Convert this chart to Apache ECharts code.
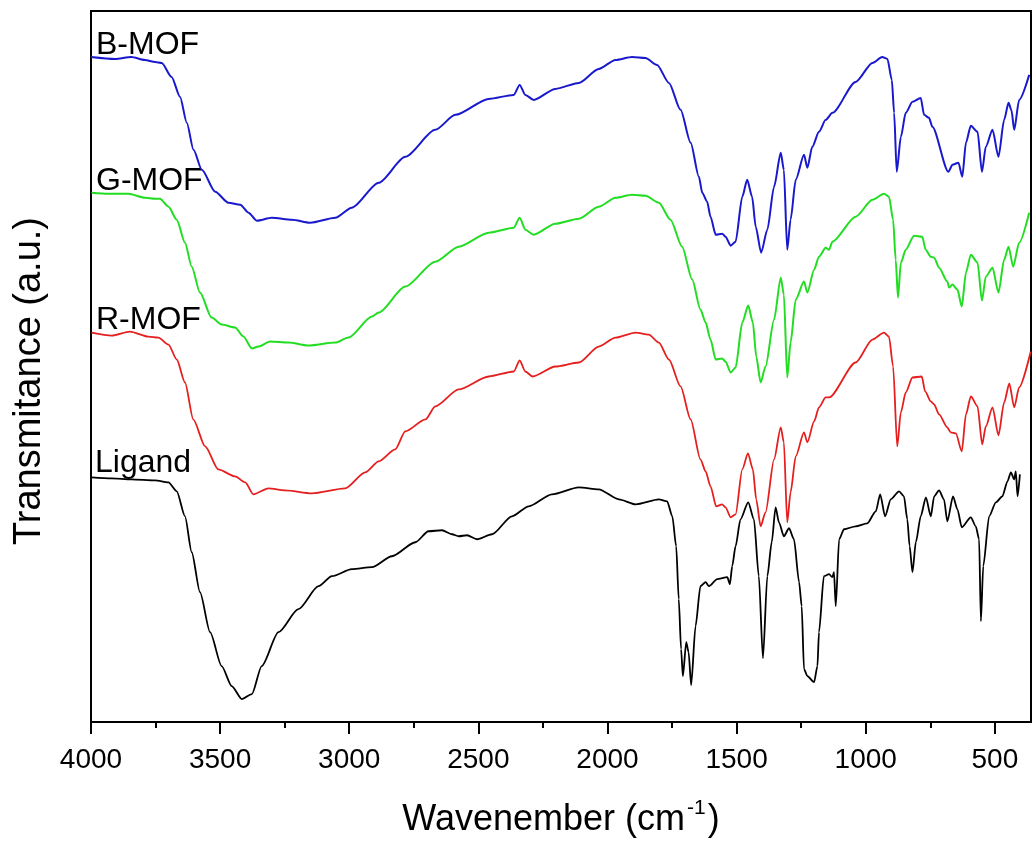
<!DOCTYPE html>
<html>
<head>
<meta charset="utf-8">
<script src="https://cdn.jsdelivr.net/npm/echarts@6/dist/echarts.min.js"></script>
<style>
html,body{margin:0;padding:0;background:#fff;}
#chart{width:1036px;height:843px;}
</style>
</head>
<body>
<div id="chart"></div>
<script>
// Wavenumber (cm-1) and transmittance (a.u., offset traces)
const seriesNames = ['B-MOF', 'G-MOF', 'R-MOF', 'Ligand'];
const majorTicks = [4000, 3500, 3000, 2500, 2000, 1500, 1000, 500];
const minorTicks = [3750, 3250, 2750, 2250, 1750, 1250, 750];

const bMOF = [[4000,666],[3907,664],[3844,666],[3791,663],[3752,661],[3726,660],[3688,646],[3655,626],[3629,600],[3603,573],[3571,553],[3519,531],[3468,520],[3422,518],[3390,510],[3358,502],[3300,505],[3222,503],[3151,500],[3054,505],[2990,515],[2886,540],[2783,566],[2667,593],[2589,608],[2460,624],[2363,628],[2340,638],[2318,628],[2286,623],[2202,634],[2111,640],[2034,654],[1969,663],[1905,666],[1853,665],[1808,658],[1762,640],[1717,613],[1678,580],[1646,546],[1633,530],[1614,521],[1601,506],[1581,488],[1556,489],[1543,486],[1523,477],[1504,481],[1478,526],[1459,543],[1440,526],[1426,496],[1405,470],[1381,493],[1355,536],[1329,570],[1317,553],[1304,473],[1291,503],[1271,543],[1239,568],[1226,555],[1207,576],[1181,591],[1155,603],[1129,610],[1039,641],[974,660],[936,666],[916,664],[899,643],[890,610],[880,551],[864,586],[845,610],[819,621],[787,625],[774,608],[755,605],[742,596],[680,551],[664,558],[641,560],[626,546],[612,580],[593,597],[567,591],[550,551],[535,576],[509,593],[486,566],[464,603],[447,620],[436,613],[425,593],[406,623],[367,648]];

const gMOF = [[3998,530],[3933,529],[3855,529],[3791,525],[3752,524],[3733,524],[3700,516],[3668,503],[3636,480],[3610,456],[3578,430],[3533,405],[3494,398],[3442,395],[3410,386],[3377,374],[3352,376],[3306,381],[3235,380],[3158,377],[3054,380],[3003,385],[2912,406],[2886,410],[2783,436],[2667,461],[2576,476],[2460,490],[2363,495],[2340,505],[2318,493],[2286,488],[2202,499],[2111,504],[2034,516],[1969,525],[1905,528],[1853,527],[1801,520],[1756,503],[1711,476],[1672,443],[1640,413],[1620,400],[1601,383],[1581,363],[1556,364],[1543,361],[1523,350],[1504,355],[1478,400],[1455,417],[1437,400],[1424,366],[1407,340],[1388,356],[1355,403],[1329,445],[1317,428],[1304,345],[1291,380],[1271,423],[1239,441],[1226,430],[1200,453],[1181,466],[1155,475],[1142,473],[1129,481],[1039,506],[974,523],[929,529],[910,526],[894,503],[884,463],[875,425],[864,460],[845,473],[813,487],[781,486],[768,473],[748,466],[735,465],[716,455],[684,441],[677,435],[664,438],[645,433],[628,416],[612,450],[593,468],[567,460],[550,422],[535,446],[509,455],[486,430],[464,463],[447,476],[429,456],[406,480],[367,510]];

const rMOF = [[3998,390],[3920,387],[3849,391],[3778,386],[3739,385],[3700,378],[3668,363],[3636,340],[3604,303],[3558,276],[3507,253],[3442,246],[3403,240],[3371,228],[3313,234],[3248,232],[3145,229],[3016,234],[2938,250],[2886,261],[2822,273],[2783,291],[2705,303],[2667,316],[2576,333],[2460,346],[2363,351],[2340,362],[2318,351],[2290,346],[2202,356],[2111,360],[2034,376],[1969,385],[1891,390],[1840,388],[1801,380],[1762,363],[1717,336],[1678,303],[1640,263],[1620,251],[1601,236],[1579,216],[1556,218],[1543,215],[1523,205],[1504,208],[1478,253],[1456,269],[1437,253],[1424,223],[1407,196],[1388,210],[1355,263],[1329,295],[1317,280],[1304,200],[1291,230],[1271,266],[1239,290],[1226,280],[1200,301],[1181,315],[1155,325],[1142,325],[1039,360],[974,383],[929,390],[910,386],[894,356],[878,276],[864,310],[845,330],[819,345],[783,346],[770,331],[748,321],[735,318],[716,308],[684,295],[671,290],[651,289],[628,271],[612,308],[593,326],[567,316],[549,278],[535,296],[509,315],[486,287],[464,320],[444,339],[425,315],[406,335],[361,371]];

const ligand = [[3998,245],[3920,244],[3843,243],[3752,242],[3700,240],[3668,231],[3636,206],[3610,170],[3578,130],[3539,90],[3494,56],[3455,36],[3416,23],[3377,28],[3339,56],[3274,90],[3197,113],[3119,136],[3067,146],[2990,153],[2912,155],[2835,166],[2744,180],[2693,191],[2641,192],[2602,188],[2576,186],[2544,187],[2505,183],[2447,188],[2370,206],[2305,216],[2215,228],[2111,235],[2034,233],[1956,223],[1891,218],[1801,223],[1769,221],[1749,206],[1734,176],[1724,123],[1715,73],[1708,46],[1695,80],[1686,70],[1676,37],[1659,96],[1640,136],[1620,140],[1607,136],[1575,143],[1536,145],[1526,138],[1517,156],[1504,176],[1485,203],[1455,220],[1433,203],[1414,146],[1398,64],[1381,146],[1364,180],[1349,215],[1336,200],[1317,186],[1297,194],[1278,183],[1258,140],[1248,116],[1239,53],[1226,46],[1200,40],[1187,56],[1181,90],[1162,146],[1142,148],[1129,145],[1123,150],[1116,116],[1103,183],[1084,193],[1039,196],[994,199],[961,211],[944,228],[925,206],[903,223],[871,231],[852,226],[839,203],[830,176],[819,150],[806,180],[787,206],[767,225],[748,206],[735,226],[716,232],[697,223],[684,201],[662,226],[645,213],[628,195],[593,205],[574,196],[561,183],[554,101],[545,156],[522,206],[496,220],[471,226],[451,241],[438,250],[425,243],[419,251],[412,226],[403,248]];

const seriesData = [bMOF, gMOF, rMOF, ligand];
const seriesColors = ['#1818cc', '#22dd22', '#e51e1e', '#000000'];
const seriesWidths = [2, 2, 1.8, 1.8];

const FONT = 'Liberation Sans, Arial, Helvetica, sans-serif';
const chart = echarts.init(document.getElementById('chart'));

const axisBase = {
  type: 'value', min: 360, max: 4000, inverse: true,
  gridIndex: 0, position: 'bottom', offset: 0,
  splitLine: {show: false}
};

chart.setOption({
  animation: false,
  backgroundColor: '#fff',
  grid: {left: 91, right: 5, top: 11, bottom: 120, show: true, borderColor: '#000', borderWidth: 2},
  xAxis: [
    Object.assign({}, axisBase, {
      axisLine: {show: true, lineStyle: {color: '#000', width: 2}},
      axisTick: {show: true, customValues: majorTicks, length: 12, lineStyle: {color: '#000', width: 2}},
      axisLabel: {show: true, customValues: majorTicks, margin: 24, color: '#000', fontSize: 28, fontFamily: FONT,
                  formatter: v => String(v)},
      name: '{m|Wavenember (cm}{s|-1}{m|)}',
      nameLocation: 'middle', nameGap: 76,
      nameTextStyle: {
        color: '#000', fontFamily: FONT,
        rich: {
          m: {fontSize: 36, fontFamily: FONT, color: '#000', lineHeight: 40, verticalAlign: 'bottom'},
          s: {fontSize: 21, fontFamily: FONT, color: '#000', lineHeight: 40, verticalAlign: 'top', padding: [0, 2, 0, 2]}
        }
      }
    }),
    Object.assign({}, axisBase, {
      axisLine: {show: false},
      axisTick: {show: true, customValues: minorTicks, length: 6, lineStyle: {color: '#000', width: 2}},
      axisLabel: {show: false}
    })
  ],
  yAxis: {
    type: 'value', min: 0, max: 712,
    axisLine: {show: true, lineStyle: {color: '#000', width: 2}},
    axisTick: {show: false}, axisLabel: {show: false}, splitLine: {show: false}
  },
  graphic: [
    {type: 'text', x: 30, y: 381, rotation: Math.PI / 2,
     style: {text: 'Transmitance (a.u.)', fontSize: 38, fontFamily: FONT, fill: '#000', align: 'center', verticalAlign: 'middle'}},
    {type: 'text', x: 96, y: 29, style: {text: seriesNames[0], fontSize: 32, fontFamily: FONT, fill: '#000', align: 'left', verticalAlign: 'top'}},
    {type: 'text', x: 96, y: 165, style: {text: seriesNames[1], fontSize: 32, fontFamily: FONT, fill: '#000', align: 'left', verticalAlign: 'top'}},
    {type: 'text', x: 96, y: 304, style: {text: seriesNames[2], fontSize: 32, fontFamily: FONT, fill: '#000', align: 'left', verticalAlign: 'top'}},
    {type: 'text', x: 95, y: 447, style: {text: seriesNames[3], fontSize: 32, fontFamily: FONT, fill: '#000', align: 'left', verticalAlign: 'top'}}
  ],
  series: seriesData.map((d, i) => ({
    name: seriesNames[i], type: 'line', xAxisIndex: 0, yAxisIndex: 0,
    data: d, showSymbol: false, smooth: 0.25, smoothMonotone: 'x',
    lineStyle: {color: seriesColors[i], width: seriesWidths[i]},
    itemStyle: {color: seriesColors[i]}
  }))
});
</script>
</body>
</html>
